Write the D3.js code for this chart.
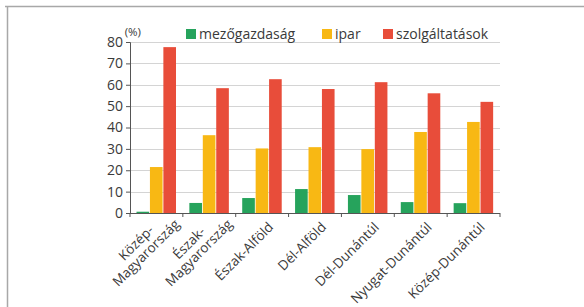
<!DOCTYPE html>
<html><head><meta charset="utf-8">
<script src="https://cdn.jsdelivr.net/npm/d3@7"></script>
<style>body{margin:0;background:#fff}svg{display:block}text{font-family:"Open Sans",sans-serif;fill:#3a3a3a}</style>
</head><body>
<svg id="c" width="584" height="307"></svg>
<script>
const regions = ["Közép-\nMagyarország","Észak-\nMagyarország","Észak-Alföld","Dél-Alföld","Dél-Dunántúl","Nyugat-Dunántúl","Közép-Dunántúl"];
const seriesNames = ["mezőgazdaság","ipar","szolgáltatások"];
const mezogazdasag = [0.6, 4.7, 7.0, 11.2, 8.4, 5.1, 4.6];
const ipar = [21.5, 36.4, 30.2, 30.8, 29.9, 37.9, 42.6];
const szolgaltatasok = [77.6, 58.4, 62.6, 58.0, 61.2, 56.0, 52.0];
const yTicks = [0,10,20,30,40,50,60,70,80];
const colors = ["#26a35c","#f8b814","#e84d3a"];

const svg = d3.select("#c");
// frame
svg.append("line").attr("x1",5).attr("x2",584).attr("y1",6.5).attr("y2",6.5).attr("stroke","#a8a8a8").attr("stroke-width",1.5);
svg.append("line").attr("x1",7.5).attr("x2",7.5).attr("y1",6).attr("y2",307).attr("stroke","#a8a8a8").attr("stroke-width",1.5);

const L=130,R=500,T=42,B=213;
const FS = "14px";
const y = d3.scaleLinear().domain([0,80]).range([B,T]);
const x0 = d3.scaleBand().domain(regions).range([L,R]);
const x1 = d3.scaleBand().domain(seriesNames).range([6.5,46]).paddingInner(0.06);
const data = [mezogazdasag, ipar, szolgaltatasok];

// grid
svg.append("g").selectAll("line").data(yTicks.filter(d=>d>0)).join("line")
  .attr("x1",L).attr("x2",R).attr("y1",d=>Math.round(y(d))+0.5).attr("y2",d=>Math.round(y(d))+0.5)
  .attr("stroke","#d4d4d4").attr("stroke-width",1);

// bars
const g = svg.append("g");
regions.forEach((r,i)=>{
  seriesNames.forEach((s,j)=>{
    g.append("rect").attr("x",x0(r)+x1(s)).attr("width",x1.bandwidth())
      .attr("y",y(data[j][i])).attr("height",B-y(data[j][i])).attr("fill",colors[j]);
  });
});

// y axis
const ya = svg.append("g").attr("transform",`translate(${L},0)`)
  .call(d3.axisLeft(y).tickValues(yTicks).tickSize(4).tickPadding(3));
ya.select(".domain").attr("stroke","#555");
ya.selectAll(".tick line").attr("stroke","#555");
ya.selectAll("text").style("font-size",FS).attr("fill","#3a3a3a").style("font-family","'Open Sans',sans-serif");

// x axis
const bounds = regions.map(r=>x0(r)).concat([R]);
svg.append("line").attr("x1",L).attr("x2",R).attr("y1",B+0.5).attr("y2",B+0.5).attr("stroke","#555");
svg.append("g").selectAll("line").data(bounds).join("line")
  .attr("x1",d=>d).attr("x2",d=>d).attr("y1",B).attr("y2",B+4).attr("stroke","#555");

// x labels
regions.forEach(r=>{
  const cx = x0(r)+x0.bandwidth()/2;
  const lines = r.split("\n");
  const t = svg.append("text").attr("transform",`translate(${cx+12},${B+15}) rotate(-45)`)
    .style("font-size","13.5px");
  if(lines.length===1){
    t.attr("text-anchor","end").text(lines[0]);
  } else {
    const t2 = t.append("tspan").attr("x",0).attr("y",0).attr("text-anchor","end").text(lines[1]);
    const w = t2.node().getComputedTextLength();
    t.attr("transform",`translate(${cx+24},${B+12}) rotate(-45)`);
    t.insert("tspan","tspan").attr("x",-w/2).attr("y",-14).attr("text-anchor","middle").text(lines[0]);
  }
});

// unit
svg.append("text").attr("x",141).attr("y",36).attr("text-anchor","end").style("font-size","11.5px").text("(%)");

// legend
const legX = [186,322,383];
seriesNames.forEach((s,j)=>{
  svg.append("rect").attr("x",legX[j]).attr("y",29).attr("width",10).attr("height",10).attr("fill",colors[j]);
  svg.append("text").attr("x",legX[j]+13).attr("y",38.5).style("font-size",FS).text(s);
});
</script>
</body></html>
